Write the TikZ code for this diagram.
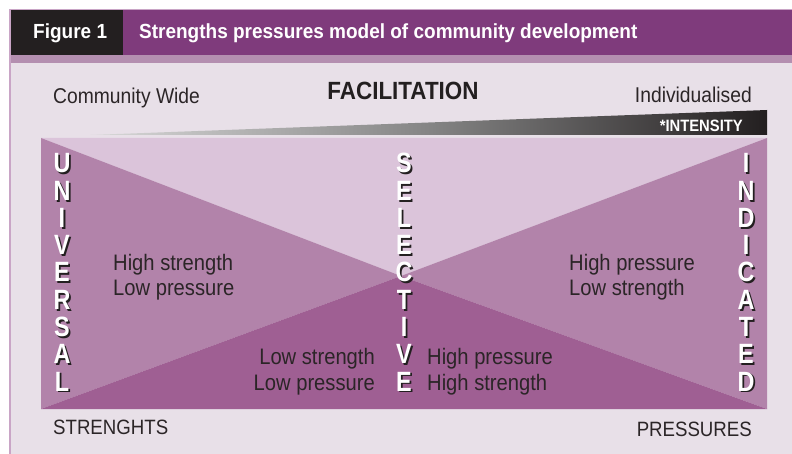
\documentclass[tikz,border=0pt]{standalone}
\usepackage{fontspec}
\setmainfont{Liberation Sans}
\newfontfamily\narrowfont{Liberation Sans}[FakeStretch=0.9]
\newfontfamily\headfont{Liberation Sans}[FakeStretch=0.93]
\newfontfamily\slimfont{Liberation Sans}[FakeStretch=0.84]
\usetikzlibrary{positioning}
\definecolor{headpurple}{RGB}{127,59,124}
\definecolor{figblack}{RGB}{35,31,32}
\definecolor{bandpurple}{RGB}{180,143,176}
\definecolor{pagebg}{RGB}{232,224,232}
\definecolor{framepink}{RGB}{201,165,198}
\definecolor{toptri}{RGB}{219,196,218}
\definecolor{sidetri}{RGB}{178,131,170}
\definecolor{bottri}{RGB}{159,95,147}
\definecolor{textdark}{RGB}{43,37,39}

% vertical word of shadowed capitals: #1 = x centre, #2 = name, #3 = letters
\newcommand\vword[3]{%
  \foreach \ch [count=\k from 0] in {#3} {
    \node[stackshadow] (#2-s\k) at (#1+1.8, 174.8+27.25*\k) {\ch};
    \node[stackletter] (#2-\k) at (#1, 173+27.25*\k) {\ch};
  }}

\begin{document}
\begin{tikzpicture}[x=1bp, y=-1bp,
  plain/.style={inner sep=0, text=textdark, font=\narrowfont\fontsize{21.5}{24}\selectfont},
  corner/.style={plain, font=\narrowfont\fontsize{20.8}{24}\selectfont},
  cell/.style={plain, align=left, font=\narrowfont\fontsize{22.5}{26}\selectfont},
  title/.style={inner sep=0, text=white, font=\headfont\bfseries\fontsize{20.5}{24}\selectfont},
  stackletter/.style={inner sep=0, anchor=base, text=white,
                      font=\slimfont\bfseries\fontsize{28}{28}\selectfont},
  stackshadow/.style={stackletter, text=figblack}
]
\useasboundingbox (0,0) rectangle (792,454);
\fill[white] (0,0) rectangle (792,454);
\fill[pagebg] (10,10) rectangle (792,454);

% header strip
\fill[headpurple] (10,10) rectangle (792,55);
\fill[figblack] (10,10) rectangle (123,55);
\fill[bandpurple] (10,55) rectangle (792,63);
\draw[framepink, line width=1.2bp] (10,454) -- (10,9.4) -- (792,9.4);
\node[title, anchor=base west] (fig) at (33,39) {Figure 1};
\node[title, anchor=base west] (caption) at (139,39)
  {Strengths pressures model of community development};

% facilitation scale
\node[plain, anchor=base west] (wide) at (53,104) {Community Wide};
\node[plain, anchor=base east] (indiv) at (752,103) {Individualised};
\node[inner sep=0, anchor=base, text=figblack,
      font=\narrowfont\bfseries\fontsize{25}{28}\selectfont] (facil) at (403,100) {FACILITATION};
\shade[left color=black!15, right color=figblack, middle color=black!48]
  (90,135) -- (767,110) -- (767,135) -- cycle;
\node[inner sep=0, anchor=base east, text=white,
      font=\narrowfont\bfseries\fontsize{16.5}{18}\selectfont] (intens) at (743,131.5) {*INTENSITY};

% the four triangles
\coordinate (tl) at (41,138);
\coordinate (tr) at (767,138);
\coordinate (bl) at (41,409);
\coordinate (br) at (767,409);
\coordinate (mid) at (401,276);
\fill[toptri] (tl) -- (tr) -- (mid) -- cycle;
\fill[sidetri] (tl) -- (bl) -- (mid) -- cycle;
\fill[sidetri] (tr) -- (br) -- (mid) -- cycle;
\fill[bottri] (bl) -- (br) -- (mid) -- cycle;

\vword{62}{uni}{U,N,I,V,E,R,S,A,L}
\vword{404}{sel}{S,E,L,E,C,T,I,V,E}
\vword{746}{ind}{I,N,D,I,C,A,T,E,D}

\node[cell, anchor=base west] (hslp) at (113,296) {High strength\\Low pressure};
\node[cell, anchor=base west] (hpls) at (569,296) {High pressure\\Low strength};
\node[cell, anchor=base east, align=right] (lslp) at (375,390) {Low strength\\Low pressure};
\node[cell, anchor=base west] (hphs) at (427,390) {High pressure\\High strength};

\node[corner, anchor=base west] (strn) at (53,434) {STRENGHTS};
\node[corner, anchor=base east] (pres) at (752,436) {PRESSURES};
\end{tikzpicture}
\end{document}
